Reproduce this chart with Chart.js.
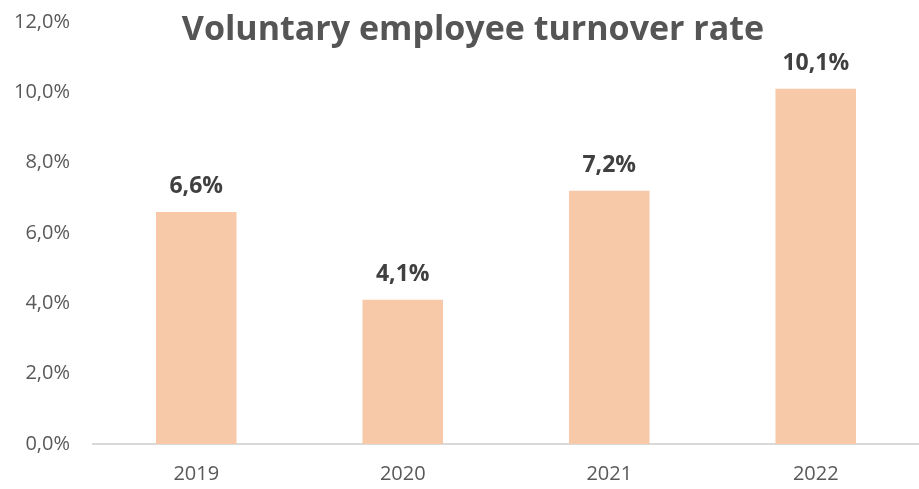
<!DOCTYPE html>
<html>
<head>
<meta charset="utf-8">
<script src="https://cdn.jsdelivr.net/npm/chart.js@4/dist/chart.umd.min.js"></script>
<style>
  html, body { margin: 0; padding: 0; background: #fff; overflow: hidden; }
  #wrap { position: relative; width: 919px; height: 489px; }
</style>
</head>
<body>
<div id="wrap"><canvas id="turnoverChart"></canvas></div>
<script>
// --- Data ---
const years = ['2019', '2020', '2021', '2022'];
const turnoverRates = [6.6, 4.1, 7.2, 10.1];
const yTicks = [0, 2, 4, 6, 8, 10, 12];

const chartTitle = 'Voluntary employee turnover rate';
const fontFamily = '"Open Sans", "Noto Sans", sans-serif';

const fmtPct = (v) => v.toFixed(1).replace('.', ',') + '%';

// title sits over the plot, not above it
const titlePlugin = {
    id: 'overlayTitle',
    afterDraw(chart) {
        const ctx = chart.ctx;
        ctx.save();
        ctx.font = 'bold 34px ' + fontFamily;
        ctx.fillStyle = '#555555';
        ctx.textAlign = 'center';
        ctx.textBaseline = 'middle';
        ctx.fillText(chartTitle, 473, 30);
        ctx.restore();
    }
};

// value labels above each bar
const valueLabels = {
    id: 'valueLabels',
    afterDatasetsDraw(chart) {
        const ctx = chart.ctx;
        const meta = chart.getDatasetMeta(0);
        ctx.save();
        ctx.font = 'bold 23px ' + fontFamily;
        ctx.fillStyle = '#404040';
        ctx.textAlign = 'center';
        ctx.textBaseline = 'middle';
        meta.data.forEach((bar, i) => {
            ctx.fillText(fmtPct(turnoverRates[i]), bar.x, bar.y - 25);
        });
        ctx.restore();
    }
};

const canvas = document.getElementById('turnoverChart');
new Chart(canvas, {
    type: 'bar',
    data: {
        labels: years,
        datasets: [{
            data: turnoverRates,
            backgroundColor: '#F7C9A9',
            borderWidth: 0,
            barPercentage: 0.39,
            categoryPercentage: 1.0
        }]
    },
    options: {
        responsive: true,
        maintainAspectRatio: false,
        animation: false,
        layout: { padding: { top: 22, right: 0, bottom: 0, left: 0 } },
        plugins: {
            legend: { display: false },
            tooltip: { enabled: false },
            title: { display: false }
        },
        scales: {
            x: {
                grid: { display: false, drawTicks: false },
                border: { display: true, color: '#D9D9D9', width: 2 },
                ticks: {
                    color: '#595959',
                    font: { family: fontFamily, size: 20 },
                    padding: 18
                },
                afterFit(scale) {
                    scale.height = 45;
                    scale.paddingLeft = 0;
                    scale.paddingRight = 0;
                }
            },
            y: {
                min: 0,
                max: 12,
                grid: { display: false, drawTicks: false },
                border: { display: false },
                afterBuildTicks(scale) {
                    scale.ticks = yTicks.map(v => ({ value: v }));
                },
                ticks: {
                    color: '#595959',
                    font: { family: fontFamily, size: 20 },
                    padding: 23,
                    callback: (v) => fmtPct(v)
                },
                afterFit(scale) {
                    scale.width = 93;
                    scale.paddingTop = 0;
                    scale.paddingBottom = 0;
                }
            }
        }
    },
    plugins: [titlePlugin, valueLabels]
});
</script>
</body>
</html>
